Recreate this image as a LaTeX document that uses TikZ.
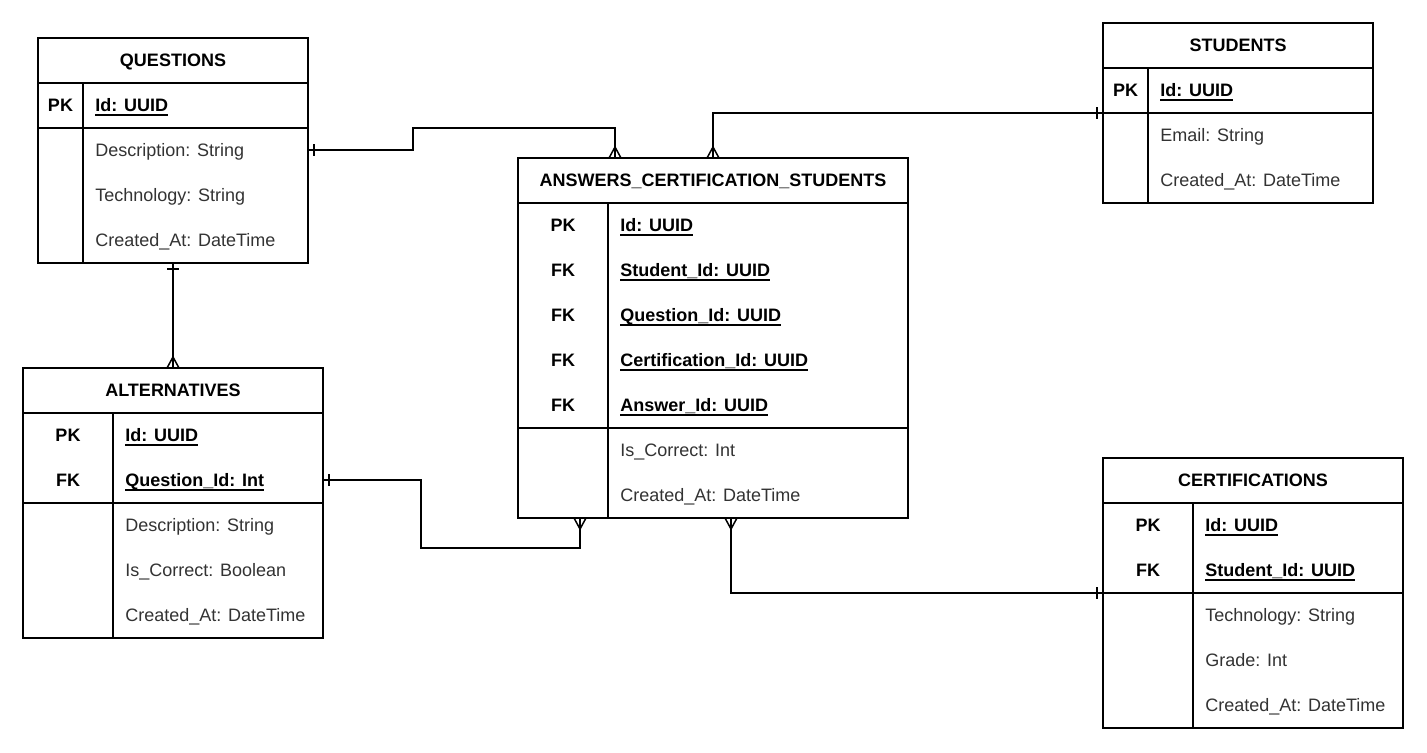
\documentclass[tikz,border=0pt]{standalone}
\usepackage{fontspec}
\setmainfont{Liberation Sans}
\usetikzlibrary{calc}
\newcommand\fldul[1]{\setbox0\hbox{#1}\rlap{\rule[-1.9pt]{\wd0}{0.7pt}}\box0}
\newcommand\ertab[9]{%
 \node[ent, minimum width={#3*0.5pt}, minimum height={(1+#5+#6)*22.5pt}] (#1) at #2 {};
 \node[ttl] (#1-t) at ($(#1.north)+(0,22.5)$) {#7};
 \draw[sep] ($(#1.north west)+(0,45)$) -- ($(#1.north east)+(0,45)$);
 \draw[sep] ($(#1.north west)+(0,{45+45*#5})$) -- ($(#1.north east)+(0,{45+45*#5})$);
 \draw[sep] ($(#1.north west)+(#4,45)$) -- ($(#1.south west)+(#4,0)$);
 \foreach \kk/\ff [count=\i] in {#8} {
   \node[keyt] (#1-k\i) at ($(#1.north west)+(#4/2,22.5+45*\i)$) {\kk};
   \node[fld] (#1-f\i) at ($(#1.north west)+(#4+12,22.5+45*\i)$) {\fldul{\ff}};
 }
 \foreach \vv [count=\j] in {#9} {
   \node[val] (#1-v\j) at ($(#1.north west)+(#4+12,22.5+45*#5+45*\j)$) {\vv};
 }
}
\begin{document}
\begin{tikzpicture}[x=0.5pt,y=-0.5pt,
  ent/.style={draw, line width=0.75pt, rectangle, anchor=north west, inner sep=0pt, outer sep=0pt},
  sep/.style={line width=0.75pt},
  conn/.style={line width=0.75pt, line join=miter},
  ttl/.style={font=\fontsize{9}{11}\selectfont\bfseries, text height=6.4pt, text depth=0pt, inner sep=0pt},
  keyt/.style={ttl},
  fld/.style={font=\fontsize{9}{11}\selectfont\bfseries, anchor=west, text height=6.4pt, text depth=0pt, inner sep=0pt},
  val/.style={font=\fontsize{9}{11}\selectfont, text=black!80, anchor=west, text height=6.4pt, text depth=0pt, inner sep=0pt},
]
\path[fill=white] (0,0) rectangle (1427,752);
\useasboundingbox (0,0) rectangle (1427,752);

\ertab{Q}{(38,38)}{270}{45}{1}{3}{QUESTIONS}{PK/Id: UUID}{Description: String, Technology: String, Created\_At: DateTime}
\ertab{S}{(1103,23)}{270}{45}{1}{2}{STUDENTS}{PK/Id: UUID}{Email: String, Created\_At: DateTime}
\ertab{A}{(518,158)}{390}{90}{5}{2}{ANSWERS\_CERTIFICATION\_STUDENTS}{PK/Id: UUID, FK/Student\_Id: UUID, FK/Question\_Id: UUID, FK/Certification\_Id: UUID, FK/Answer\_Id: UUID}{Is\_Correct: Int, Created\_At: DateTime}
\ertab{AL}{(23,368)}{300}{90}{2}{3}{ALTERNATIVES}{PK/Id: UUID, FK/Question\_Id: Int}{Description: String, Is\_Correct: Boolean, Created\_At: DateTime}
\ertab{C}{(1103,458)}{300}{90}{2}{3}{CERTIFICATIONS}{PK/Id: UUID, FK/Student\_Id: UUID}{Technology: String, Grade: Int, Created\_At: DateTime}

% QUESTIONS -> ANSWERS
\coordinate (c1s) at ($(Q.north east)+(0,112)$);
\coordinate (c1e) at ($(A.north west)+(97,0)$);
\draw[conn] (c1s) -- ++(105,0) |- ($(c1e)+(0,-30)$) -- (c1e);
\draw[conn] ($(c1s)+(6,-6)$) -- ($(c1s)+(6,6)$);
\draw[conn] ($(c1e)+(-6,0)$) -- ($(c1e)+(0,-11)$) -- ($(c1e)+(6,0)$);

% STUDENTS -> ANSWERS
\coordinate (c2s) at ($(S.north west)+(0,90)$);
\coordinate (c2e) at ($(A.north west)+(195,0)$);
\draw[conn] (c2s) -| (c2e);
\draw[conn] ($(c2s)+(-6,-6)$) -- ($(c2s)+(-6,6)$);
\draw[conn] ($(c2e)+(-6,0)$) -- ($(c2e)+(0,-11)$) -- ($(c2e)+(6,0)$);

% QUESTIONS -> ALTERNATIVES
\draw[conn] (Q.south) -- (AL.north);
\draw[conn] ($(Q.south)+(-6,6)$) -- ($(Q.south)+(6,6)$);
\draw[conn] ($(AL.north)+(-6,0)$) -- ($(AL.north)+(0,-11)$) -- ($(AL.north)+(6,0)$);

% ALTERNATIVES -> ANSWERS
\coordinate (c4s) at ($(AL.north east)+(0,112)$);
\coordinate (c4e) at ($(A.south west)+(62,0)$);
\draw[conn] (c4s) -- ++(98,0) |- ($(c4e)+(0,30)$) -- (c4e);
\draw[conn] ($(c4s)+(6,-6)$) -- ($(c4s)+(6,6)$);
\draw[conn] ($(c4e)+(-6,0)$) -- ($(c4e)+(0,11)$) -- ($(c4e)+(6,0)$);

% ANSWERS -> CERTIFICATIONS
\coordinate (c5s) at ($(A.south west)+(213,0)$);
\coordinate (c5e) at ($(C.north west)+(0,135)$);
\draw[conn] (c5s) |- (c5e);
\draw[conn] ($(c5s)+(-6,0)$) -- ($(c5s)+(0,11)$) -- ($(c5s)+(6,0)$);
\draw[conn] ($(c5e)+(-6,-6)$) -- ($(c5e)+(-6,6)$);
\end{tikzpicture}
\end{document}
